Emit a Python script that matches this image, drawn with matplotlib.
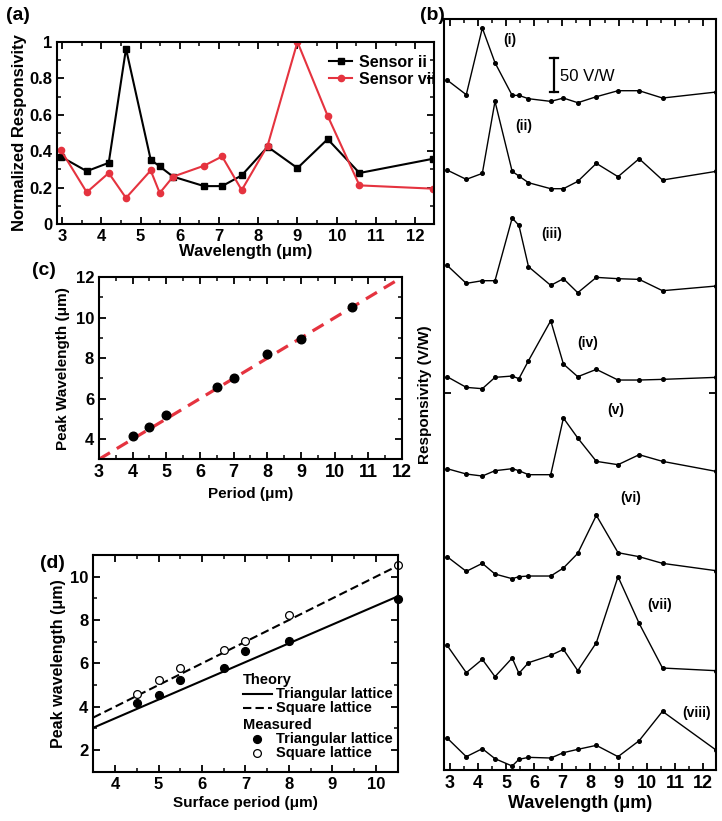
import numpy as np
import matplotlib
matplotlib.use("Agg")
import matplotlib.pyplot as plt
from matplotlib.ticker import MultipleLocator

plt.rcParams['font.family'] = ['Liberation Sans', 'DejaVu Sans']
plt.rcParams['font.weight'] = 'bold'
plt.rcParams['axes.labelweight'] = 'bold'
plt.rcParams['axes.linewidth'] = 1.5
plt.rcParams['mathtext.default'] = 'regular'

RED = '#e5333f'

# (a) normalized responsivity of two sensors
wl_a = [2.97, 3.63, 4.19, 4.63, 5.26, 5.49, 5.83, 6.62, 7.08, 7.58, 8.24, 9.0, 9.77, 10.58, 12.45]
sensor_ii = [0.37, 0.29, 0.336, 0.963, 0.353, 0.316, 0.26, 0.208, 0.208, 0.267, 0.424, 0.307, 0.466, 0.28, 0.358]
sensor_vii = [0.406, 0.174, 0.28, 0.143, 0.294, 0.17, 0.26, 0.32, 0.371, 0.186, 0.431, 1.0, 0.594, 0.212, 0.194]

# (b) stacked responsivity traces (V/W above each trace's baseline)
wl_b = [2.91, 3.59, 4.16, 4.61, 5.22, 5.46, 5.80, 6.59, 7.04, 7.55, 8.21, 8.98, 9.73, 10.56, 12.46]
trace_names = ['(i)', '(ii)', '(iii)', '(iv)', '(v)', '(vi)', '(vii)', '(viii)']
traces = [
    [35, 13, 113, 61, 12, 12, 7, 3, 8, 1, 10, 19, 19, 8, 17],
    [40, 26, 35, 143, 38, 31, 21, 12, 12, 23, 50, 30, 57, 25, 38],
    [57, 30, 34, 34, 128, 117, 55, 27, 37, 16, 39, 37, 36, 19, 26],
    [30, 14, 12, 29, 31, 27, 54, 114, 49, 30, 41, 25, 25, 26, 29],
    [22, 14, 11, 19, 22, 19, 13, 13, 98, 68, 33, 28, 43, 33, 18],
    [50, 28, 40, 24, 17, 20, 21, 21, 33, 55, 112, 56, 50, 40, 29],
    [57, 16, 36, 10, 38, 15, 31, 42, 51, 19, 61, 160, 90, 23, 19],
    [48, 20, 32, 17, 6, 16, 19, 18, 26, 31, 37, 20, 44, 88, 30],
]
trace_offsets = [1000, 860, 700, 560, 430, 270, 130, 0]
label_pos = [(5.12, 1095), (5.63, 966), (6.61, 804), (7.91, 641), (8.91, 540), (9.42, 408), (10.44, 247), (11.78, 85)]

# (c) peak wavelength vs period
period_c = [4, 4.5, 5, 6.5, 7, 8, 9, 10.5]
peak_c = [4.13, 4.58, 5.19, 6.56, 7.0, 8.2, 8.96, 10.55]

# (d) theory vs measured
theory_period = [3.5, 10.5]
theory_tri = [3.03, 9.09]
theory_sq = [3.5, 10.5]
meas_tri_p = [4.5, 5, 5.5, 6.5, 7, 8, 10.5]
meas_tri = [4.15, 4.56, 5.21, 5.8, 6.57, 7.03, 8.96]
meas_sq_p = [4.5, 5, 5.5, 6.5, 7, 8, 10.5]
meas_sq = [4.59, 5.21, 5.78, 6.6, 7.03, 8.22, 10.55]

fig = plt.figure(figsize=(7.22, 8.21), dpi=100)


def style_ticks(ax, size=12):
    ax.tick_params(which='both', direction='in', top=True, right=True, labelsize=size)
    ax.tick_params(which='major', length=5, width=1.3)
    ax.tick_params(which='minor', length=3, width=1.1)


# ---- (a)
ax = fig.add_axes([0.0794, 0.7272, 0.5217, 0.2217])
ax.plot(wl_a, sensor_ii, '-s', color='k', ms=4.8, lw=1.5, label='Sensor ii')
ax.plot(wl_a, sensor_vii, '-o', color=RED, ms=4.5, lw=1.5, label='Sensor vii')
ax.set_xlim(2.88, 12.48)
ax.set_ylim(0, 1.0)
ax.set_xticks(range(3, 13))
ax.xaxis.set_minor_locator(MultipleLocator(0.5))
ax.set_yticks([0, 0.2, 0.4, 0.6, 0.8, 1.0])
ax.set_yticklabels(['0', '0.2', '0.4', '0.6', '0.8', '1'])
ax.yaxis.set_minor_locator(MultipleLocator(0.1))
style_ticks(ax)
ax.set_xlabel('Wavelength (μm)', fontsize=12, labelpad=0)
ax.set_ylabel('Normalized Responsivity', fontsize=12, labelpad=2)
ax.legend(loc='upper left', frameon=False, fontsize=11.5, handlelength=1.5,
          handletextpad=0.4, borderaxespad=0, borderpad=0, labelspacing=0.15,
          bbox_to_anchor=(0.72, 0.93))
fig.text(0.009, 0.981, '(a)', fontsize=14, weight='bold', va='center')

# ---- (b)
axb = fig.add_axes([0.615, 0.0621, 0.3767, 0.9147])
for name, vals, off, pos in zip(trace_names, traces, trace_offsets, label_pos):
    axb.plot(wl_b, np.array(vals) + off, '-o', color='k', ms=2.6, lw=1)
    axb.text(pos[0], pos[1], name, fontsize=10, weight='bold', ha='center', va='center')
axb.set_xlim(2.8, 12.46)
axb.set_ylim(0, 1126.5)
axb.set_xticks(range(3, 13))
axb.xaxis.set_minor_locator(MultipleLocator(0.5))
axb.set_yticks([565])
axb.set_yticklabels([])
style_ticks(axb, size=13)
axb.set_xlabel('Wavelength (μm)', fontsize=13, labelpad=2)
axb.set_ylabel('Responsivity (V/W)', fontsize=11, labelpad=5)
# 50 V/W scale bar
axb.plot([6.72, 6.72], [1017.5, 1067.5], color='k', lw=1.6)
axb.plot([6.58, 6.86], [1017.5, 1017.5], color='k', lw=1.6)
axb.plot([6.58, 6.86], [1067.5, 1067.5], color='k', lw=1.6)
axb.text(6.92, 1040, '50 V/W', fontsize=12, weight='normal', va='center')
fig.text(0.582, 0.981, '(b)', fontsize=14, weight='bold', va='center')

# ---- (c)
axc = fig.add_axes([0.1371, 0.4406, 0.4197, 0.2217])
axc.plot([3, 12], [3, 12], '--', color=RED, lw=2.3, dashes=(4, 2.5))
axc.plot(period_c, peak_c, 'o', color='k', ms=6.2)
axc.set_xlim(3, 12)
axc.set_ylim(3, 12)
axc.set_xticks(range(3, 13))
axc.xaxis.set_minor_locator(MultipleLocator(0.5))
axc.set_yticks([4, 6, 8, 10, 12])
axc.yaxis.set_minor_locator(MultipleLocator(1))
style_ticks(axc)
axc.tick_params(axis='x', labelsize=13)
axc.set_xlabel('Period (μm)', fontsize=11, labelpad=4)
axc.set_ylabel('Peak Wavelength (μm)', fontsize=11, labelpad=4)
fig.text(0.045, 0.671, '(c)', fontsize=14, weight='bold', va='center')

# ---- (d)
axd = fig.add_axes([0.1292, 0.06, 0.4216, 0.264])
axd.plot(theory_period, theory_tri, '-', color='k', lw=1.5)
axd.plot(theory_period, theory_sq, '--', color='k', lw=1.5, dashes=(4, 2))
axd.plot(meas_tri_p, meas_tri, 'o', color='k', ms=5.6, clip_on=False)
axd.plot(meas_sq_p, meas_sq, 'o', mfc='white', mec='k', mew=0.9, ms=5.6, clip_on=False)
axd.set_xlim(3.5, 10.5)
axd.set_ylim(1, 11)
axd.set_xticks(range(4, 11))
axd.xaxis.set_minor_locator(MultipleLocator(0.5))
axd.set_yticks([2, 4, 6, 8, 10])
axd.yaxis.set_minor_locator(MultipleLocator(1))
style_ticks(axd)
axd.set_xlabel('Surface period (μm)', fontsize=11, labelpad=3)
axd.set_ylabel('Peak wavelength (μm)', fontsize=11.5, labelpad=3)
# legend drawn by hand
tr = axd.transAxes
fs = 10.5
axd.text(0.492, 0.423, 'Theory', transform=tr, fontsize=fs, weight='bold', va='center')
axd.plot([0.492, 0.587], [0.359, 0.359], '-', color='k', lw=1.5, transform=tr)
axd.text(0.600, 0.359, 'Triangular lattice', transform=tr, fontsize=fs, weight='bold', va='center')
axd.plot([0.492, 0.587], [0.295, 0.295], '--', color='k', lw=1.5, dashes=(4, 2), transform=tr)
axd.text(0.600, 0.295, 'Square lattice', transform=tr, fontsize=fs, weight='bold', va='center')
axd.text(0.492, 0.216, 'Measured', transform=tr, fontsize=fs, weight='bold', va='center')
axd.plot([0.537], [0.151], 'o', color='k', ms=5.6, transform=tr)
axd.text(0.600, 0.151, 'Triangular lattice', transform=tr, fontsize=fs, weight='bold', va='center')
axd.plot([0.537], [0.088], 'o', mfc='white', mec='k', mew=0.9, ms=5.6, transform=tr)
axd.text(0.600, 0.088, 'Square lattice', transform=tr, fontsize=fs, weight='bold', va='center')
fig.text(0.055, 0.314, '(d)', fontsize=14, weight='bold', va='center')

fig.savefig('out.png', dpi=100)
